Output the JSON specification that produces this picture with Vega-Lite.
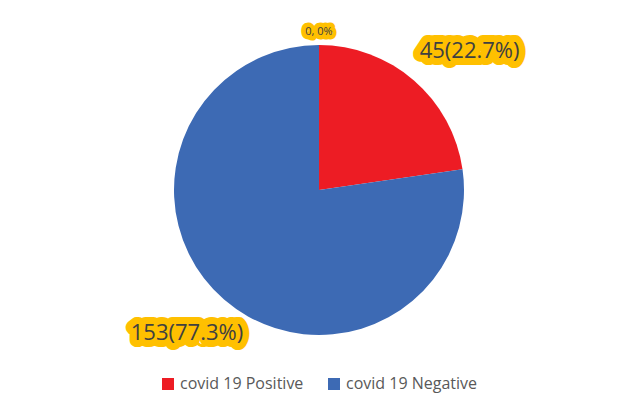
{
  "$schema": "https://vega.github.io/schema/vega-lite/v6.json",
  "width": 616,
  "height": 380,
  "autosize": {"type": "none"},
  "padding": {"left": 11, "top": 0, "right": 0, "bottom": 25},
  "background": "white",
  "view": {"stroke": null},
  "config": {"font": "Open Sans"},
  "data": {
    "values": [
      {"category": "covid 19 Positive", "count": 45, "label": "45(22.7%)"},
      {"category": "covid 19 Negative", "count": 153, "label": "153(77.3%)"},
      {"category": "(blank)", "count": 0, "label": "0, 0%"}
    ]
  },
  "encoding": {
    "theta": {"field": "count", "type": "quantitative", "stack": true},
    "order": {"field": "category", "type": "ordinal", "sort": "descending"}
  },
  "layer": [
    {
      "transform": [{"filter": "datum.count > 0"}],
      "mark": {"type": "arc", "outerRadius": 145},
      "encoding": {
        "color": {
          "field": "category",
          "type": "nominal",
          "scale": {"domain": ["covid 19 Positive", "covid 19 Negative"], "range": ["#ED1C24", "#3D6AB4"]},
          "legend": {
            "orient": "none",
            "legendX": 149,
            "legendY": 376,
            "direction": "horizontal",
            "title": null,
            "symbolType": "square",
            "symbolSize": 144,
            "symbolStrokeWidth": 0,
            "symbolOpacity": 1,
            "labelFontSize": 16,
            "labelFont": "Open Sans",
            "labelColor": "#595959",
            "labelOffset": 4,
            "columnPadding": 22
          }
        }
      }
    },
    {
      "mark": {"type": "text", "radius": 204, "dx": 17, "dy": 15, "fontSize": 22, "stroke": "#FFC000", "strokeWidth": 14, "strokeJoin": "round", "fill": "#FFC000"},
      "encoding": {
        "text": {"field": "label"},
        "opacity": {"condition": {"test": "datum.category == 'covid 19 Positive'", "value": 1}, "value": 0}
      }
    },
    {
      "mark": {"type": "text", "radius": 204, "dx": 17, "dy": 15, "fontSize": 22, "fill": "#404040"},
      "encoding": {
        "text": {"field": "label"},
        "opacity": {"condition": {"test": "datum.category == 'covid 19 Positive'", "value": 1}, "value": 0}
      }
    },
    {
      "mark": {"type": "text", "radius": 197, "dx": -3, "dy": -6, "fontSize": 22, "stroke": "#FFC000", "strokeWidth": 14, "strokeJoin": "round", "fill": "#FFC000"},
      "encoding": {
        "text": {"field": "label"},
        "opacity": {"condition": {"test": "datum.category == 'covid 19 Negative'", "value": 1}, "value": 0}
      }
    },
    {
      "mark": {"type": "text", "radius": 197, "dx": -3, "dy": -6, "fontSize": 22, "fill": "#404040"},
      "encoding": {
        "text": {"field": "label"},
        "opacity": {"condition": {"test": "datum.category == 'covid 19 Negative'", "value": 1}, "value": 0}
      }
    },
    {
      "transform": [{"filter": "datum.count == 0"}],
      "mark": {"type": "text", "radius": 158, "fontSize": 11, "stroke": "#FFC000", "strokeWidth": 9, "strokeJoin": "round", "fill": "#FFC000"},
      "encoding": {"text": {"field": "label"}}
    },
    {
      "transform": [{"filter": "datum.count == 0"}],
      "mark": {"type": "text", "radius": 158, "fontSize": 11, "fill": "#404040"},
      "encoding": {"text": {"field": "label"}}
    }
  ]
}
